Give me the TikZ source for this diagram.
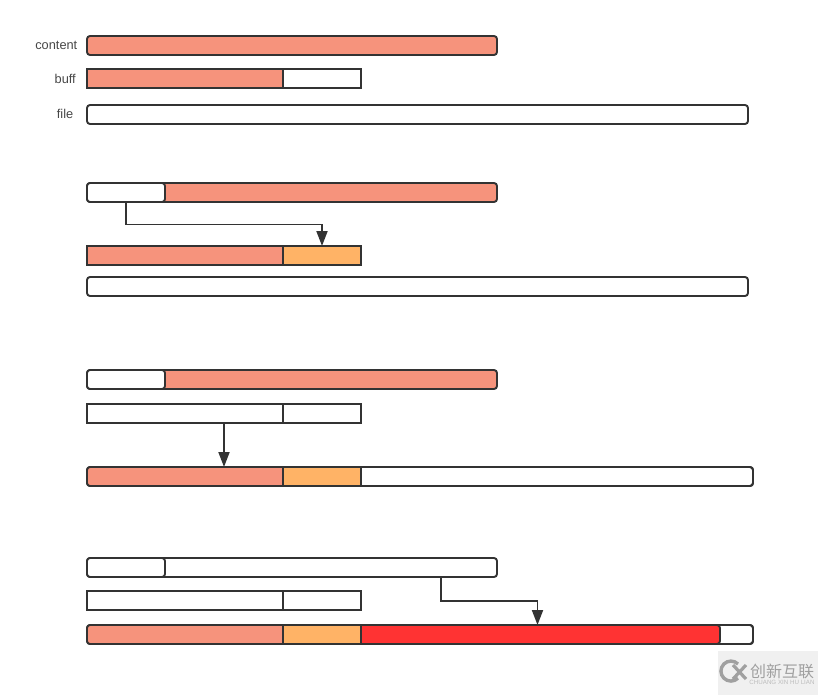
\documentclass[tikz,border=0pt]{standalone}
\usepackage{fontspec}
\setmainfont{Liberation Sans}
\newfontfamily\cjkfont{Noto Sans CJK SC}
\usetikzlibrary{arrows.meta}
\definecolor{ink}{HTML}{333333}
\definecolor{salmon}{HTML}{F6937C}
\definecolor{amber}{HTML}{FFB366}
\definecolor{hotred}{HTML}{FF3333}
\definecolor{wm}{HTML}{A0A0A0}
\tikzset{
  x=1pt,y=-1pt,
  bar/.style={draw=ink,line width=1.9pt,outer sep=0pt,inner sep=0pt,anchor=north west,minimum height=19pt,fill=white},
  round/.style={bar,rounded corners=3pt},
  filler/.style={anchor=north west,outer sep=0pt,inner sep=0pt,minimum height=19pt,rounded corners=3pt},
  lab/.style={font=\fontsize{12.8}{14}\selectfont,text=ink!90,anchor=east,inner sep=0pt},
  conn/.style={draw=ink,line width=1.9pt,-{Triangle[length=15pt,width=11pt]}},
  divider/.style={draw=ink,line width=1.9pt},
}
\begin{document}
\begin{tikzpicture}
\useasboundingbox (0,0) rectangle (818,695);

% group 1
\node[lab] (lc) at (77.5,45.5) {content};
\node[lab] (lb) at (76,78.5) {buff};
\node[lab] (lf) at (73.5,113.5) {file};
\node[round,fill=salmon,minimum width=410pt] (c1) at (87,36) {};
\node[bar,minimum width=274pt] (b1) at (87,69) {};
\node[bar,fill=salmon,minimum width=196pt] (b1a) at (87,69) {};
\node[round,minimum width=661pt] (f1) at (87,105) {};

% group 2
\node[round,fill=salmon,minimum width=410pt] (c2) at (87,183) {};
\node[round,minimum width=78pt] (w2) at (87,183) {};
\node[bar,fill=salmon,minimum width=196pt] (b2a) at (87,246) {};
\node[bar,fill=amber,minimum width=78pt] (b2b) at (283,246) {};
\node[round,minimum width=661pt] (f2) at (87,277) {};
\coordinate (j2) at (322,224.5);
\draw[conn] (w2.south) |- (j2) -- (b2b.north);

% group 3
\node[round,fill=salmon,minimum width=410pt] (c3) at (87,370) {};
\node[round,minimum width=78pt] (w3) at (87,370) {};
\node[bar,minimum width=274pt] (b3) at (87,404) {};
\draw[divider] (283,404) -- (283,423);
\node[round,minimum width=666pt] (f3) at (87,467) {};
\node[filler,fill=salmon,minimum width=220pt] (f3a) at (87,467) {};
\node[bar,fill=amber,minimum width=78pt] (f3b) at (283,467) {};
\node[round,fill=none,minimum width=666pt] (f3o) at (87,467) {};
\draw[conn] (b3.south) -- (b3.south |- f3.north);

% group 4
\node[round,minimum width=410pt] (c4) at (87,558) {};
\node[round,minimum width=78pt] (w4) at (87,558) {};
\node[bar,minimum width=274pt] (b4) at (87,591) {};
\draw[divider] (283,591) -- (283,610);
\node[round,minimum width=666pt] (f4) at (87,625) {};
\node[filler,fill=salmon,minimum width=220pt] (f4a) at (87,625) {};
\node[filler,fill=hotred,draw=ink,line width=1.9pt,minimum width=365pt] (f4c) at (355,625) {};
\node[bar,fill=amber,minimum width=78pt] (f4b) at (283,625) {};
\node[round,fill=none,minimum width=666pt] (f4o) at (87,625) {};
\coordinate (j4) at (441,601);
\draw[conn] (c4.south -| j4) -- (j4) -| (f4c.north);

% watermark
\fill[black!6] (718,651) rectangle (818,695);
\draw[wm,line width=3.4pt] (738,664) arc[start angle=45,end angle=315,radius=10pt];
\draw[wm,line width=3.2pt] (733,665) -- (746,679) (746,665) -- (733,679);
\node[text=wm,font=\cjkfont\fontsize{16}{17}\selectfont,inner sep=0pt] (wm1) at (782,671) {创新互联};
\node[text=wm!70,font=\fontsize{6.2}{7}\selectfont,inner sep=0pt] (wm2) at (782,682) {CHUANG XIN HU LIAN};
\end{tikzpicture}
\end{document}
